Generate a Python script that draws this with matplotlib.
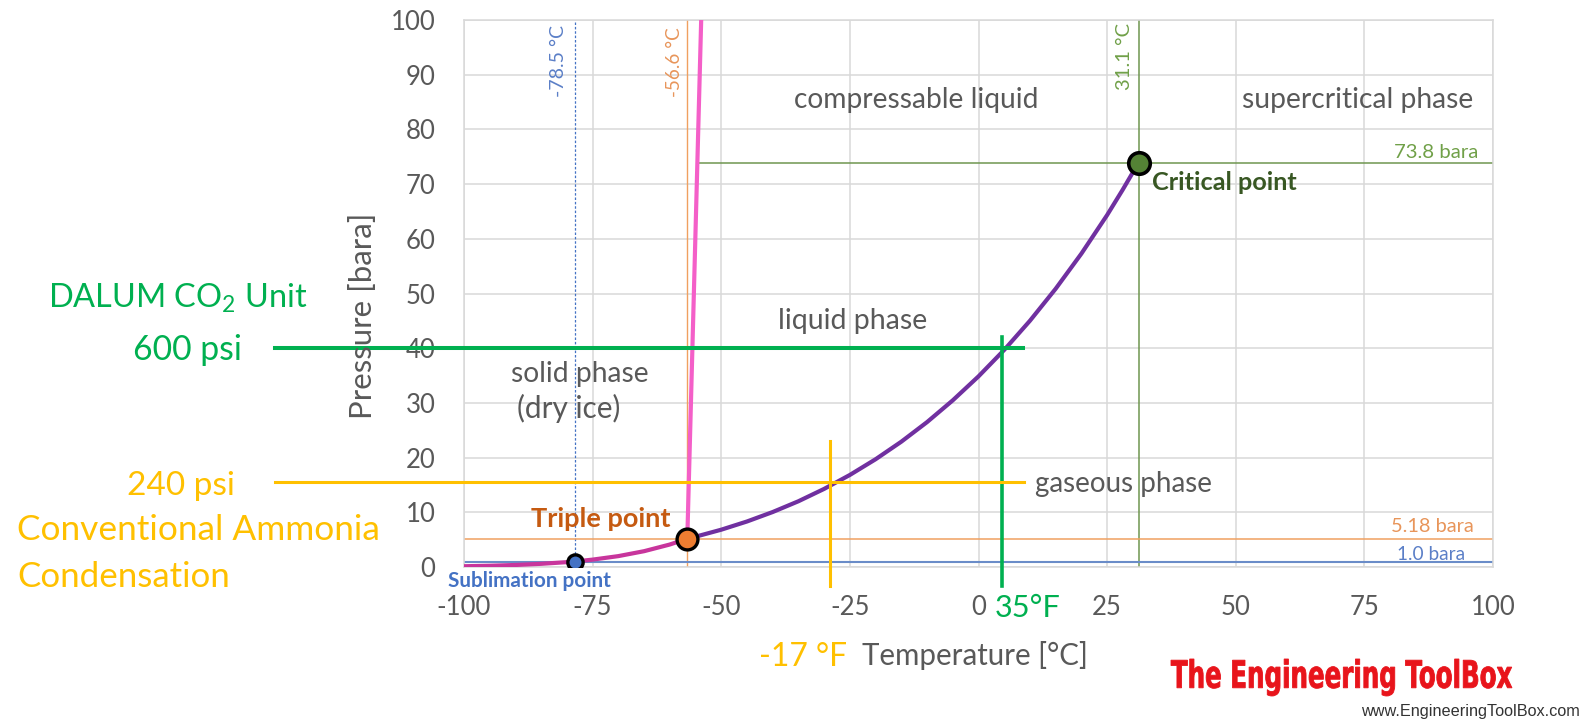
import matplotlib
matplotlib.use("Agg")
import matplotlib.pyplot as plt
from matplotlib.textpath import TextPath
from matplotlib.patches import PathPatch
from matplotlib.font_manager import FontProperties
from matplotlib.transforms import Affine2D

plt.rcParams['font.family'] = ['Lato', 'DejaVu Sans']
plt.rcParams['axes.unicode_minus'] = False
plt.rcParams['mathtext.fontset'] = 'custom'
plt.rcParams['mathtext.rm'] = 'Lato'
plt.rcParams['mathtext.it'] = 'Lato'
plt.rcParams['mathtext.default'] = 'rm'

# ---------------- data ----------------
x_ticks = [-100, -75, -50, -25, 0, 25, 50, 75, 100]
y_ticks = [0, 10, 20, 30, 40, 50, 60, 70, 80, 90, 100]

# sublimation curve (solid/gas)
sub_T = [-100, -95, -90, -85, -80, -78.5, -75, -70, -65, -60, -56.6]
sub_P = [0.14, 0.23, 0.37, 0.58, 0.89, 1.0, 1.35, 1.99, 2.89, 4.11, 5.18]
# vapour pressure curve (liquid/gas)
vap_T = [-56.6, -55, -50, -45, -40, -35, -30, -25, -20, -15, -10, -5, 0, 5,
         10, 15, 20, 25, 28, 30, 31.1]
vap_P = [5.18, 5.54, 6.82, 8.32, 10.05, 12.02, 14.28, 16.83, 19.70, 22.91,
         26.49, 30.47, 34.85, 39.69, 45.02, 50.87, 57.29, 64.34, 68.93, 72.14, 73.8]
# melting curve (solid/liquid)
melt_T = [-56.6, -53.9]
melt_P = [5.18, 100]

sublim_pt = (-78.5, 1.0)
triple_pt = (-56.6, 5.18)
critical_pt = (31.1, 73.8)

dalum_T, dalum_P = 4.6, 40.0          # 35 °F, 600 psi
ammonia_T, ammonia_P = -28.9, 15.45   # -17 °F, 240 psi

# ---------------- figure ----------------
W, H = 1591, 720
fig = plt.figure(figsize=(W / 100, H / 100), dpi=100)
L, R, T, B = 464, 1493, 20, 567
ax = fig.add_axes([L / W, 1 - B / H, (R - L) / W, (B - T) / H])
ax.set_xlim(-100, 100)
ax.set_ylim(0, 100)
ax.set_xticks(x_ticks)
ax.set_yticks(y_ticks)
ax.grid(True, color='#d9d9d9', lw=1.1, zorder=0)
ax.set_axisbelow(True)
for s in ax.spines.values():
    s.set_color('#d9d9d9')
    s.set_linewidth(1.1)
ax.tick_params(length=0, labelsize=18.5, labelcolor='#595959')
ax.tick_params(axis='x', pad=20)
ax.tick_params(axis='y', pad=20.5)

GRAY = '#595959'
BLUE = '#4472c4'
ORANGE = '#ed7d31'
OLIVE = '#6f9650'
GREEN = '#00b050'
YELLOW = '#ffc000'

# reference lines
ax.plot([sublim_pt[0]] * 2, [0, 100], color=BLUE, lw=0.9, ls=(0, (2, 1.5)), zorder=2)
ax.plot([triple_pt[0]] * 2, [0, 100], color='#f0a060', lw=1.0, zorder=2)
ax.plot([critical_pt[0]] * 2, [0, 100], color=OLIVE, lw=1.1, zorder=2)
ax.plot([-54.5, 100], [critical_pt[1]] * 2, color=OLIVE, lw=1.1, zorder=2)
ax.plot([-100, 100], [triple_pt[1]] * 2, color='#f0a060', lw=1.1, zorder=2)
ax.plot([-100, 100], [sublim_pt[1]] * 2, color='#6a8cc8', lw=1.5, zorder=2)

# phase curves
ax.plot(sub_T, sub_P, color='#c8359c', lw=3, zorder=3, solid_capstyle='butt')
ax.plot(vap_T, vap_P, color='#7030a0', lw=3, zorder=3)
ax.plot(melt_T, melt_P, color='#f45fc8', lw=3, zorder=3)

# points
ax.plot(*sublim_pt, 'o', ms=11, mfc=BLUE, mec='black', mew=2.4, zorder=4)
ax.plot(*triple_pt, 'o', ms=15, mfc=ORANGE, mec='black', mew=2.4, zorder=4)
ax.plot(*critical_pt, 'o', ms=15.5, mfc='#548235', mec='black', mew=2.6, zorder=4)

# annotation lines (extend outside the axes)
ax.plot([-136.7, 8.65], [dalum_P] * 2, color=GREEN, lw=2.9, clip_on=False, zorder=6)
ax.plot([dalum_T] * 2, [-3.5, 42.0], color=GREEN, lw=2.6, clip_on=False, zorder=6)
ax.plot([-136.7, 8.8], [ammonia_P] * 2, color=YELLOW, lw=2.2, clip_on=False, zorder=6)
ax.plot([ammonia_T] * 2, [-3.5, 23.0], color=YELLOW, lw=2.2, clip_on=False, zorder=6)

# ---------------- texts ----------------
fits = []


def ftext(px, py, s, target, dim='w', **kw):
    t = fig.text(px / W, 1 - py / H, s, **kw)
    fits.append((t, target, dim))
    return t


ftext(916, 108, 'compressable liquid', 245, ha='center', va='baseline', color=GRAY, fontsize=17)
ftext(1358, 108, 'supercritical phase', 231, ha='center', va='baseline', color=GRAY, fontsize=17)
ftext(852.5, 329, 'liquid phase', 149, ha='center', va='baseline', color=GRAY, fontsize=17)
ftext(1123.5, 492, 'gaseous phase', 177, ha='center', va='baseline', color=GRAY, fontsize=17)
ftext(580, 382, 'solid phase', 138, ha='center', va='baseline', color=GRAY, fontsize=17)
ftext(568.5, 418, '(dry ice)', 103, ha='center', va='baseline', color=GRAY, fontsize=17)

ftext(601, 527, 'Triple point', 140, ha='center', va='baseline', color='#c55a11',
      fontsize=15, fontweight='bold')
ftext(1152, 190, 'Critical point', 145, ha='left', va='baseline', color='#385723',
      fontsize=15, fontweight='bold')
ftext(529, 587, 'Sublimation point', 164, ha='center', va='baseline', color=BLUE,
      fontsize=12, fontweight='bold')

ftext(1478, 158, '73.8 bara', 85, ha='right', va='baseline', color='#70a048', fontsize=12)
ftext(1474, 532, '5.18 bara', 83, ha='right', va='baseline', color='#e8955a', fontsize=12)
ftext(1465, 560, '1.0 bara', 68, ha='right', va='baseline', color='#5b7fc7', fontsize=12)

ftext(558, 25, '-78.5 °C', 72, dim='h', ha='center', va='top', rotation=90,
      color='#5b7fc7', fontsize=12)
ftext(675, 27, '-56.6 °C', 70, dim='h', ha='center', va='top', rotation=90,
      color='#e8955a', fontsize=12)
ftext(1124, 23, '31.1 °C', 67, dim='h', ha='center', va='top', rotation=90,
      color='#70a048', fontsize=12)

ftext(363, 316, 'Pressure [bara]', 206, dim='h', ha='center', va='center', rotation=90,
      color=GRAY, fontsize=19)
ftext(862, 665, 'Temperature [°C]', 226, ha='left', va='baseline', color=GRAY, fontsize=19)
ftext(759, 666, '-17 °F', 88, ha='left', va='baseline', color=YELLOW, fontsize=21)
ftext(995, 617, '35°F', 66, ha='left', va='baseline', color=GREEN, fontsize=21)

ftext(177.5, 308, 'DALUM CO$_2$ Unit', 259, ha='center', va='baseline', color=GREEN, fontsize=24)
ftext(242, 360, '600 psi', 109, ha='right', va='baseline', color=GREEN, fontsize=24)
ftext(235, 495, '240 psi', 108, ha='right', va='baseline', color=YELLOW, fontsize=24)
ftext(17, 540, 'Conventional Ammonia', 363, ha='left', va='baseline', color=YELLOW, fontsize=24)
ftext(17, 587, 'Condensation', 213, ha='left', va='baseline', color=YELLOW, fontsize=24)

ftext(1580, 716, 'www.EngineeringToolBox.com', 218, ha='right', va='baseline',
      color='#333333', fontsize=10, family=['Liberation Sans', 'DejaVu Sans'])

fig.canvas.draw()
rend = fig.canvas.get_renderer()
for _ in range(2):
    for t, target, dim in fits:
        bb = t.get_window_extent(rend)
        cur = bb.width if dim == 'w' else bb.height
        if cur > 0:
            t.set_fontsize(t.get_fontsize() * target / cur)
    fig.canvas.draw()

# logo: condensed bold red lettering squeezed into its box
logo = TextPath((0, 0), 'The Engineering ToolBox',
                prop=FontProperties(family='DejaVu Sans', weight='bold'), size=50)
ext = logo.get_extents()
x0, x1, ytop, ybot = 1171, 1512, 659, 696
tr = (Affine2D().translate(-ext.x0, -ext.y0)
      .scale((x1 - x0) / ext.width, (ybot - ytop) / ext.height)
      .translate(x0, H - ybot).scale(1 / fig.dpi) + fig.dpi_scale_trans)
fig.add_artist(PathPatch(logo, transform=tr, facecolor='#e8141b', edgecolor='#e8141b',
                         lw=0.6))

fig.savefig('out.png', dpi=100, facecolor='white')
